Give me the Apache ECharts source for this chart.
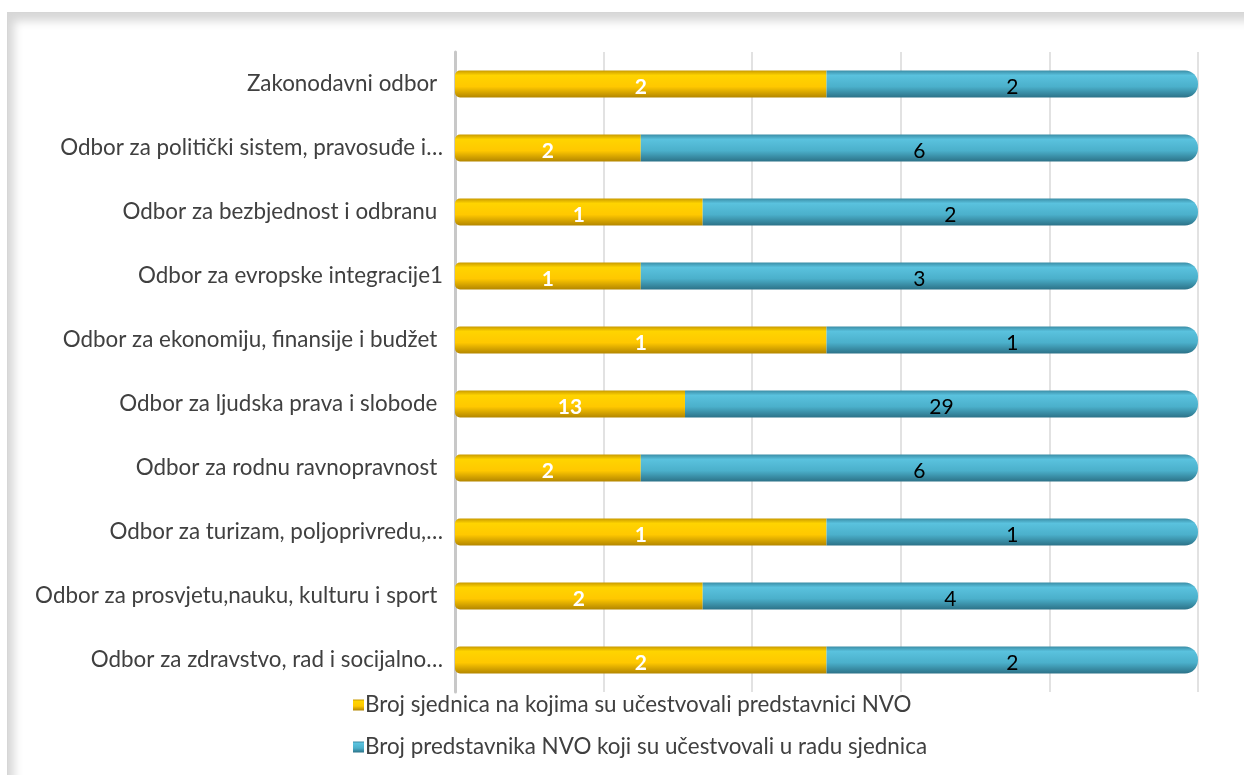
<!DOCTYPE html>
<html>
<head>
<meta charset="utf-8">
<script src="https://cdn.jsdelivr.net/npm/echarts@6/dist/echarts.min.js"></script>
<style>
html,body{margin:0;padding:0;background:#fff;overflow:hidden;}
#frame{position:absolute;left:7px;top:12px;width:1250px;height:780px;border:1px solid #d6d6d6;box-shadow:inset 6px 8px 10px rgba(0,0,0,0.16);}
#chart{position:absolute;left:0;top:0;width:1244px;height:775px;}
</style>
</head>
<body>
<div id="frame"></div>
<div id="chart"></div>
<script>
var categories = [
  'Zakonodavni odbor ',
  'Odbor za politički sistem, pravosuđe i…',
  'Odbor za bezbjednost i odbranu ',
  'Odbor za evropske integracije1',
  'Odbor za ekonomiju, finansije i budžet ',
  'Odbor za ljudska prava i slobode ',
  'Odbor za rodnu ravnopravnost ',
  'Odbor za turizam, poljoprivredu,…',
  'Odbor za prosvjetu,nauku, kulturu i sport ',
  'Odbor za zdravstvo, rad i socijalno…'
];
var seriesNames = [
  'Broj sjednica na kojima su učestvovali predstavnici NVO',
  'Broj predstavnika NVO koji su učestvovali u radu sjednica'
];
var sjednice = [2, 2, 1, 1, 1, 13, 2, 1, 2, 2];
var predstavnici = [2, 6, 2, 3, 1, 29, 6, 1, 4, 2];
var xTicks = [0, 20, 40, 60, 80, 100];

function pctData(vals, other) {
  return vals.map(function (v, i) {
    return { value: 100 * v / (v + other[i]), raw: v };
  });
}

var yellow = new echarts.graphic.LinearGradient(0, 0, 0, 1, [
  {offset: 0, color: '#C99A00'},
  {offset: 0.18, color: '#FFD400'},
  {offset: 0.6, color: '#FFC800'},
  {offset: 1, color: '#B38600'}
]);
var blue = new echarts.graphic.LinearGradient(0, 0, 0, 1, [
  {offset: 0, color: '#3B8DA6'},
  {offset: 0.18, color: '#5AC2DE'},
  {offset: 0.6, color: '#4BB0CB'},
  {offset: 1, color: '#2C7288'}
]);

var chart = echarts.init(document.getElementById('chart'));
chart.setOption({
  animation: false,
  backgroundColor: 'transparent',
  grid: {left: 455, right: 46, top: 52, bottom: 83},
  legend: {
    orient: 'vertical',
    left: 348,
    top: 689,
    itemGap: 20,
    itemWidth: 11,
    itemHeight: 11,
    icon: 'rect',
    textStyle: {color: '#404040', fontSize: 22.4, fontFamily: 'Lato', padding: [0,0,0,-4]},
    data: seriesNames
  },
  xAxis: {
    type: 'value',
    min: xTicks[0],
    max: xTicks[xTicks.length - 1],
    interval: 20,
    axisLabel: {show: false},
    axisLine: {show: false},
    axisTick: {show: false},
    splitLine: {show: true, lineStyle: {color: '#d9d9d9', width: 1.5}}
  },
  yAxis: {
    type: 'category',
    inverse: true,
    data: categories,
    axisTick: {show: false},
    axisLine: {show: true, lineStyle: {color: '#c8c8c8', width: 3}},
    axisLabel: {color: '#404040', fontSize: 22.4, fontFamily: 'Lato', margin: 12, padding: [6, 0, 0, 0]}
  },
  series: [
    {
      name: seriesNames[0],
      type: 'bar',
      stack: 'total',
      barWidth: 27,
      data: pctData(sjednice, predstavnici),
      itemStyle: {color: yellow, borderRadius: [5, 0, 0, 5]},
      label: {
        show: true,
        position: 'inside',
        color: '#ffffff',
        fontWeight: 'bold',
        fontSize: 21,
        fontFamily: 'Lato',
        offset: [0, 3],
        formatter: function (p) { return p.data.raw; }
      }
    },
    {
      name: seriesNames[1],
      type: 'bar',
      stack: 'total',
      barWidth: 27,
      data: pctData(predstavnici, sjednice),
      itemStyle: {color: blue, borderRadius: [0, 13, 13, 0]},
      label: {
        show: true,
        position: 'inside',
        color: '#000000',
        fontSize: 21,
        fontFamily: 'Lato',
        offset: [0, 3],
        formatter: function (p) { return p.data.raw; }
      }
    }
  ]
});
</script>
</body>
</html>
